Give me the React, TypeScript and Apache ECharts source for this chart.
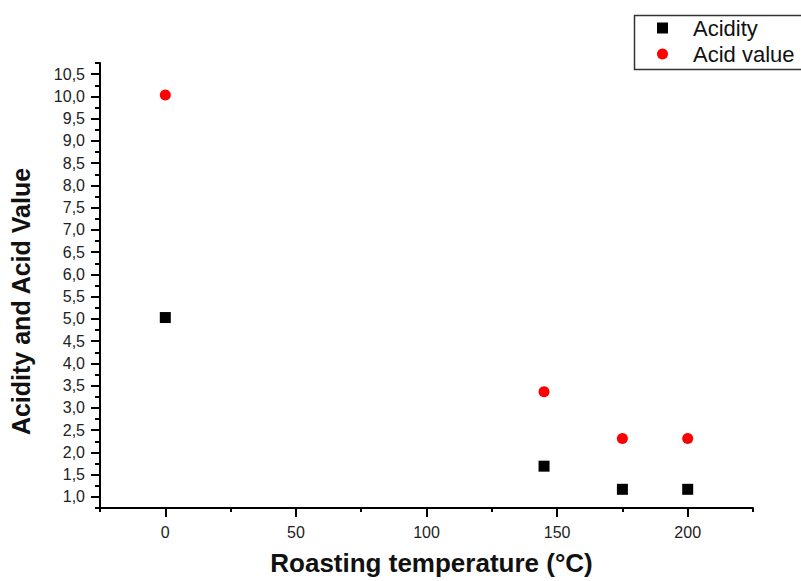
import React, { useEffect, useRef } from "react";
import * as echarts from "echarts";

const temperatures = [0, 145, 175, 200];
const acidity = [5.03, 1.69, 1.17, 1.17];
const acidValue = [10.03, 3.36, 2.31, 2.31];
const xMajorTicks = [0, 50, 100, 150, 200];
const yMajorTicks = [1, 1.5, 2, 2.5, 3, 3.5, 4, 4.5, 5, 5.5, 6, 6.5, 7, 7.5, 8, 8.5, 9, 9.5, 10, 10.5];

const FONT = "'Liberation Sans', Arial, sans-serif";

export default function App() {
  const ref = useRef<HTMLDivElement>(null);
  useEffect(() => {
    if (!ref.current) return;
    const chart = echarts.init(ref.current, null, { renderer: "svg" });
    const axisLine = { show: true, onZero: false, lineStyle: { color: "#000", width: 2 } };
    chart.setOption({
      animation: false,
      backgroundColor: "#fff",
      textStyle: { fontFamily: FONT },
      grid: { left: 99, right: 48, top: 63, bottom: 69 },
      graphic: [
        {
          type: "rect",
          left: 632,
          top: 13,
          shape: { width: 220, height: 54 },
          style: { fill: "none", stroke: "#333", lineWidth: 1.5 },
          silent: true,
        },
      ],
      legend: {
        orient: "vertical",
        left: 632,
        top: 13,
        padding: [3, 0, 3, 25],
        itemGap: 2,
        itemWidth: 11,
        itemHeight: 11,
        borderWidth: 0,
        textStyle: { fontSize: 22, color: "#111", fontFamily: FONT, padding: [0, 0, 0, 20], lineHeight: 24 },
        data: [
          { name: "Acidity", icon: "rect", itemStyle: { color: "#000", opacity: 1 } },
          { name: "Acid value", icon: "circle", itemStyle: { color: "#ff0000", opacity: 1 } },
        ],
      },
      xAxis: [
        {
          type: "value",
          min: -25,
          max: 225,
          interval: 25,
          position: "bottom",
          name: "Roasting temperature (°C)",
          nameLocation: "middle",
          nameGap: 42,
          nameTextStyle: { fontSize: 26, fontWeight: "bold", color: "#111", fontFamily: FONT, padding: [0, 0, 0, 10] },
          axisLine,
          axisTick: { show: true, length: 4, lineStyle: { color: "#000", width: 2 } },
          splitLine: { show: false },
          axisLabel: {
            fontSize: 16,
            color: "#222",
            margin: 16,
            formatter: (v: number) => (v % 50 === 0 ? String(v) : ""),
          },
        },
        {
          type: "value",
          min: -25,
          max: 225,
          position: "bottom",
          offset: 0,
          axisLine: { show: false, onZero: false },
          axisTick: { show: true, length: 9, customValues: xMajorTicks, lineStyle: { color: "#000", width: 2 } },
          axisLabel: { show: false },
          splitLine: { show: false },
        },
      ],
      yAxis: [
        {
          type: "value",
          min: 0.75,
          max: 10.75,
          interval: 0.25,
          position: "left",
          name: "Acidity and Acid Value",
          nameLocation: "middle",
          nameGap: 67,
          nameRotate: 90,
          nameTextStyle: { fontSize: 25, fontWeight: "bold", color: "#111", fontFamily: FONT, padding: [0, 32, 0, 0] },
          axisLine,
          axisTick: { show: true, length: 5, lineStyle: { color: "#000", width: 2 } },
          splitLine: { show: false },
          axisLabel: {
            fontSize: 16,
            color: "#222",
            margin: 15,
            formatter: (v: number) =>
              Math.abs(v * 2 - Math.round(v * 2)) < 1e-6 ? v.toFixed(1).replace(".", ",") : "",
          },
        },
        {
          type: "value",
          min: 0.75,
          max: 10.75,
          position: "left",
          offset: 0,
          axisLine: { show: false, onZero: false },
          axisTick: { show: true, length: 9, customValues: yMajorTicks, lineStyle: { color: "#000", width: 2 } },
          axisLabel: { show: false },
          splitLine: { show: false },
        },
      ],
      series: [
        {
          name: "Acidity",
          type: "scatter",
          symbol: "rect",
          symbolSize: 11,
          itemStyle: { color: "#000", opacity: 1 },
          data: temperatures.map((t, i) => [t, acidity[i]]),
        },
        {
          name: "Acid value",
          type: "scatter",
          symbol: "circle",
          symbolSize: 11,
          itemStyle: { color: "#ff0000", opacity: 1 },
          data: temperatures.map((t, i) => [t, acidValue[i]]),
        },
      ],
    });
    return () => chart.dispose();
  }, []);
  return (
    <div
      ref={ref}
      style={{ position: "fixed", left: 0, top: 0, width: 801, height: 581, background: "#fff" }}
    />
  );
}
